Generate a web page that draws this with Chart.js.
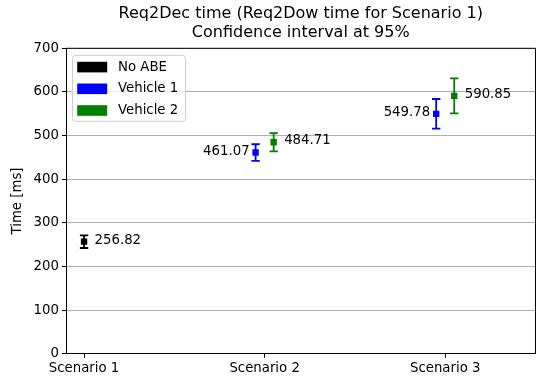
<!DOCTYPE html>
<html>
<head>
<meta charset="utf-8">
<script src="https://cdn.jsdelivr.net/npm/chart.js@4/dist/chart.umd.min.js"></script>
<style>
  body { margin: 0; background: #fff; }
  #wrap { width: 550px; height: 385px; }
</style>
</head>
<body>
<div id="wrap"><canvas id="myChart" width="550" height="385"></canvas></div>
<script>
const titleLines = ['Req2Dec time (Req2Dow time for Scenario 1)', 'Confidence interval at 95%']
const scenarios = ['Scenario 1', 'Scenario 2', 'Scenario 3']
const yTicks = [0, 100, 200, 300, 400, 500, 600, 700]
const seriesNames = ['No ABE', 'Vehicle 1', 'Vehicle 2']
const seriesColors = ['#000000', '#0000ff', '#008000']

// x = scenario index plus the small dodge used in the figure
const noAbeX = [0]
const noAbeMean = [256.82]
const noAbeErr = [14.5]

const vehicle1X = [0.95, 1.95]
const vehicle1Mean = [461.07, 549.78]
const vehicle1Err = [19, 34]

const vehicle2X = [1.05, 2.05]
const vehicle2Mean = [484.71, 590.85]
const vehicle2Err = [21, 40]

const labelSide = ['right', 'left', 'right']
const FONT = "'DejaVu Sans', sans-serif"

const xs = [noAbeX, vehicle1X, vehicle2X]
const means = [noAbeMean, vehicle1Mean, vehicle2Mean]
const errs = [noAbeErr, vehicle1Err, vehicle2Err]

const datasets = seriesNames.map((name, i) => ({
  label: name,
  data: xs[i].map((x, j) => ({ x: x, y: means[i][j] })),
  errors: errs[i],
  side: labelSide[i],
  pointStyle: 'rect',
  pointRadius: 4.5,
  backgroundColor: seriesColors[i],
  borderColor: seriesColors[i],
  borderWidth: 0,
  showLine: false
}))

const errorBars = {
  id: 'errorBars',
  beforeDatasetsDraw(chart) {
    const ctx = chart.ctx
    const xs = chart.scales.x
    const ys = chart.scales.y
    ctx.save()
    chart.data.datasets.forEach(ds => {
      ctx.strokeStyle = ds.borderColor
      ctx.lineWidth = 1.8
      ds.data.forEach((p, j) => {
        const px = xs.getPixelForValue(p.x)
        const top = ys.getPixelForValue(p.y + ds.errors[j])
        const bot = ys.getPixelForValue(p.y - ds.errors[j])
        ctx.beginPath()
        ctx.moveTo(px, top); ctx.lineTo(px, bot)
        ctx.moveTo(px - 4.2, top); ctx.lineTo(px + 4.2, top)
        ctx.moveTo(px - 4.2, bot); ctx.lineTo(px + 4.2, bot)
        ctx.stroke()
      })
    })
    ctx.restore()
  },
  afterDatasetsDraw(chart) {
    const ctx = chart.ctx
    const xs = chart.scales.x
    const ys = chart.scales.y
    const a = chart.chartArea
    ctx.save()
    // top and right frame
    ctx.strokeStyle = '#000'
    ctx.lineWidth = 1
    ctx.beginPath()
    ctx.moveTo(a.left, a.top); ctx.lineTo(a.right, a.top); ctx.lineTo(a.right, a.bottom)
    ctx.stroke()
    // title, centred over the axes
    ctx.fillStyle = '#000'
    ctx.font = '16px ' + FONT
    ctx.textAlign = 'center'
    ctx.textBaseline = 'middle'
    titleLines.forEach((t, i) => ctx.fillText(t, (a.left + a.right) / 2, 13.5 + i * 19.2))
    // value labels
    ctx.font = '13.3px ' + FONT
    chart.data.datasets.forEach(ds => {
      ds.data.forEach(p => {
        const px = xs.getPixelForValue(p.x)
        const py = ys.getPixelForValue(p.y) - 1.5
        if (ds.side === 'left') {
          ctx.textAlign = 'right'
          ctx.fillText(p.y.toFixed(2), px - 6, py)
        } else {
          ctx.textAlign = 'left'
          ctx.fillText(p.y.toFixed(2), px + 10.5, py)
        }
      })
    })
    // legend in upper left
    const lx = a.left + 6.5, ly = a.top + 7
    ctx.beginPath()
    ctx.roundRect(lx, ly, 113, 66, 3)
    ctx.fillStyle = 'rgba(255,255,255,0.8)'
    ctx.fill()
    ctx.strokeStyle = '#cccccc'
    ctx.stroke()
    chart.data.datasets.forEach((ds, i) => {
      const ry = ly + 6.5 + i * 21.7
      ctx.fillStyle = ds.backgroundColor
      ctx.fillRect(lx + 4.7, ry, 30, 10.6)
      ctx.fillStyle = '#000'
      ctx.textAlign = 'left'
      ctx.fillText(ds.label, lx + 45.5, ry + 5.5)
    })
    ctx.restore()
  }
}

new Chart(document.getElementById('myChart'), {
  type: 'scatter',
  data: { datasets: datasets },
  plugins: [errorBars],
  options: {
    responsive: false,
    animation: false,
    devicePixelRatio: 1,
    layout: { padding: { left: 0, right: 14.5, top: 48.3, bottom: 0 } },
    plugins: {
      legend: { display: false },
      tooltip: { enabled: false },
      title: { display: false }
    },
    scales: {
      x: {
        type: 'linear',
        min: -0.1,
        max: 2.5,
        afterBuildTicks: scale => { scale.ticks = scenarios.map((s, i) => ({ value: i })) },
        afterFit: scale => { scale.height = 31.3 },
        ticks: {
          color: '#000',
          font: { family: FONT, size: 13.3 },
          padding: 3,
          maxRotation: 0,
          callback: v => scenarios[v]
        },
        grid: { drawOnChartArea: false, drawTicks: true, tickLength: 4, tickColor: '#000' },
        border: { color: '#000', width: 1 }
      },
      y: {
        min: yTicks[0],
        max: yTicks[yTicks.length - 1],
        afterBuildTicks: scale => { scale.ticks = yTicks.map(v => ({ value: v })) },
        afterFit: scale => { scale.width = 66 },
        ticks: { color: '#000', font: { family: FONT, size: 13.3 }, padding: 3 },
        grid: { color: '#b0b0b0', lineWidth: 1, tickLength: 4, tickColor: '#000' },
        border: { color: '#000', width: 1 },
        title: {
          display: true,
          text: 'Time [ms]',
          color: '#000',
          font: { family: FONT, size: 13.3 },
          padding: { top: 10, bottom: 0 }
        }
      }
    }
  }
})
</script>
</body>
</html>
